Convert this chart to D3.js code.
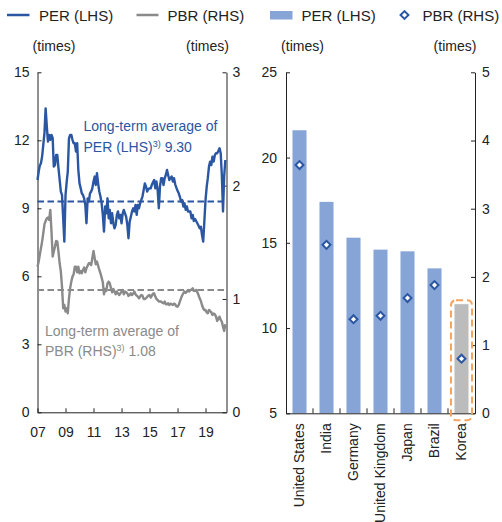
<!DOCTYPE html>
<html>
<head>
<meta charset="utf-8">
<script src="https://cdn.jsdelivr.net/npm/d3@7"></script>
<style>
  html, body { margin: 0; padding: 0; background: #fff; }
  svg { display: block; font-family: "Liberation Sans", Arial, Helvetica, sans-serif; }
</style>
</head>
<body>
<svg id="chart" width="502" height="522"></svg>
<script>
// ---- Data ----------------------------------------------------------------
// Monthly valuation of the domestic stock market, Jan 2007 to Jun 2020
const startMonth = "2007-01";
const perSeries = [
  10.25, 10.62, 10.88, 10.99, 11.28, 11.80, 12.31, 13.41, 12.60, 11.94,
  12.24, 12.02, 12.24, 12.09, 10.84, 10.91, 11.35, 11.35, 10.77, 10.25,
  9.74, 9.59, 8.56, 7.53, 9.59, 10.18, 10.62, 12.09, 12.24, 12.24,
  12.02, 11.87, 11.87, 11.50, 11.87, 10.69, 10.10, 9.88, 9.66, 9.59,
  9.44, 9.15, 8.34, 9.44, 9.30, 9.66, 9.74, 9.88, 10.18, 10.40,
  10.03, 10.55, 10.10, 9.74, 9.52, 9.22, 8.71, 7.97, 9.08, 8.78,
  9.44, 8.56, 8.93, 8.34, 8.78, 8.34, 8.12, 8.27, 8.71, 8.86,
  8.56, 8.71, 8.34, 8.78, 8.93, 8.78, 8.63, 8.27, 7.68, 8.41,
  8.63, 8.86, 9.00, 8.86, 9.15, 8.71, 9.15, 9.00, 9.22, 9.37,
  9.52, 9.81, 10.10, 9.96, 9.74, 9.85, 9.88, 9.88, 10.03, 10.15,
  10.25, 9.88, 10.18, 9.81, 9.00, 9.96, 10.33, 10.33, 10.03, 10.33,
  10.47, 10.69, 10.47, 10.25, 10.33, 10.40, 10.18, 10.33, 10.06, 9.91,
  9.77, 9.66, 9.52, 9.30, 9.37, 9.08, 9.22, 8.93, 9.08, 8.86,
  8.86, 8.86, 8.56, 8.71, 8.44, 8.53, 8.44, 8.34, 8.24, 8.12,
  8.19, 7.83, 7.53, 8.41, 9.37, 9.96, 10.33, 10.84, 11.06, 10.91,
  11.28, 11.06, 11.35, 11.43, 11.43, 11.53, 11.65, 11.43, 10.47, 8.86,
  10.40, 11.13
];
const pbrSeries = [
  1.285, 1.330, 1.388, 1.447, 1.506, 1.580, 1.659, 1.689, 1.712, 1.718,
  1.697, 1.786, 1.594, 1.374, 1.418, 1.462, 1.512, 1.506, 1.418, 1.315,
  1.241, 1.109, 0.918, 0.947, 0.888, 0.918, 0.874, 1.006, 1.094, 1.153,
  1.197, 1.218, 1.285, 1.285, 1.235, 1.285, 1.227, 1.247, 1.227, 1.256,
  1.277, 1.235, 1.271, 1.294, 1.315, 1.315, 1.300, 1.359, 1.424, 1.359,
  1.306, 1.330, 1.294, 1.256, 1.227, 1.188, 1.147, 1.041, 1.088, 1.071,
  1.138, 1.153, 1.138, 1.094, 1.059, 1.088, 1.065, 1.041, 1.065, 1.050,
  1.035, 1.050, 1.065, 1.080, 1.041, 1.065, 1.059, 1.050, 1.027, 1.035,
  1.050, 1.035, 1.047, 1.065, 1.041, 1.030, 1.021, 1.006, 1.021, 1.035,
  1.030, 1.000, 1.000, 1.006, 1.018, 1.030, 1.035, 1.012, 1.027, 1.047,
  1.050, 1.021, 1.000, 0.991, 0.977, 0.977, 0.977, 0.968, 0.962, 0.977,
  0.953, 0.953, 0.962, 0.947, 0.959, 0.953, 0.947, 0.959, 0.953, 0.935,
  0.932, 0.947, 0.977, 1.006, 1.030, 1.050, 1.065, 1.053, 1.065, 1.080,
  1.065, 1.077, 1.083, 1.094, 1.071, 1.071, 1.080, 1.059, 1.035, 1.006,
  0.982, 0.947, 0.918, 0.903, 0.903, 0.882, 0.874, 0.903, 0.894, 0.882,
  0.859, 0.871, 0.865, 0.844, 0.806, 0.824, 0.844, 0.815, 0.800, 0.756,
  0.718, 0.777
];
const perAverage = 9.30;
const pbrAverage = 1.08;
const yearTicks = [2007, 2009, 2011, 2013, 2015, 2017, 2019];
const perTicks = [0, 3, 6, 9, 12, 15];
const pbrTicks = [0, 1, 2, 3];

// Cross-country comparison
const countries = ["United States", "India", "Germany", "United Kingdom", "Japan", "Brazil", "Korea"];
const countryPer = [21.6, 17.4, 15.3, 14.6, 14.5, 13.5, 11.4];
const countryPbr = [3.64, 2.47, 1.38, 1.43, 1.69, 1.88, 0.80];
const countryPerTicks = [5, 10, 15, 20, 25];
const countryPbrTicks = [0, 1, 2, 3, 4, 5];
const highlightCountry = "Korea";

// ---- Styles --------------------------------------------------------------
const BLUE = "#2a56a2";
const GREY = "#8a8a8a";
const BAR_BLUE = "#87a4d6";
const BAR_GREY = "#bcbcbc";
const ORANGE = "#f3a55f";
const AXIS = "#222";
const FONT = 14;
const intFormat = d3.format("d");

const svg = d3.select("#chart");

function styleAxis(g) {
  g.selectAll("path.domain").attr("stroke", AXIS).attr("stroke-width", 1);
  g.selectAll(".tick line").attr("stroke", AXIS).attr("stroke-width", 1);
  g.selectAll(".tick text").attr("fill", "#222").attr("font-size", FONT)
    .attr("font-family", '"Liberation Sans", Arial, sans-serif');
}

// ---- Legend --------------------------------------------------------------
const legend = svg.append("g");
legend.append("line").attr("x1", 7).attr("x2", 29.5).attr("y1", 15).attr("y2", 15)
  .attr("stroke", BLUE).attr("stroke-width", 2.5);
legend.append("text").attr("x", 39).attr("y", 20.5).attr("font-size", 15).attr("fill", "#222").text("PER (LHS)");
legend.append("line").attr("x1", 136.5).attr("x2", 158.5).attr("y1", 15).attr("y2", 15)
  .attr("stroke", GREY).attr("stroke-width", 2.5);
legend.append("text").attr("x", 167.5).attr("y", 20.5).attr("font-size", 15).attr("fill", "#222").text("PBR (RHS)");
legend.append("rect").attr("x", 270).attr("y", 11).attr("width", 22.5).attr("height", 8.5).attr("fill", BAR_BLUE);
legend.append("text").attr("x", 301.5).attr("y", 20.5).attr("font-size", 15).attr("fill", "#222").text("PER (LHS)");
legend.append("rect").attr("x", -2.8).attr("y", -2.8).attr("width", 5.6).attr("height", 5.6)
  .attr("transform", "translate(404.5,15) rotate(45)")
  .attr("fill", "#fff").attr("stroke", BLUE).attr("stroke-width", 2);
legend.append("text").attr("x", 422.5).attr("y", 20.5).attr("font-size", 15).attr("fill", "#222").text("PBR (RHS)");

// Units
[54, 207.5, 302.5, 455].forEach(cx => {
  svg.append("text").attr("x", cx).attr("y", 50.5).attr("text-anchor", "middle")
    .attr("font-size", FONT).attr("fill", "#222").text("(times)");
});

// ---- Left panel: time series ------------------------------------------------
const L = { left: 37.5, right: 226.5, top: 72.3, bottom: 412.3 };
const parseMonth = d3.timeParse("%Y-%m");
const firstMonth = parseMonth(startMonth);
const series = perSeries.map((v, i) => ({
  date: d3.timeMonth.offset(firstMonth, i), per: v, pbr: pbrSeries[i]
}));

const xTime = d3.scaleTime()
  .domain([new Date(2007, 0, 1), new Date(2020, 6, 1)])
  .range([L.left, L.right]);
const yPer = d3.scaleLinear().domain([0, 15]).range([L.bottom, L.top]);
const yPbr = d3.scaleLinear().domain([0, 3]).range([L.bottom, L.top]);

const left = svg.append("g");

left.append("g").attr("transform", `translate(${L.left},0)`)
  .call(d3.axisLeft(yPer).tickValues(perTicks).tickFormat(intFormat)
    .tickSizeInner(-4).tickSizeOuter(0).tickPadding(8))
  .call(styleAxis);
left.append("g").attr("transform", `translate(${L.right},0)`)
  .call(d3.axisRight(yPbr).tickValues(pbrTicks).tickFormat(intFormat)
    .tickSizeInner(-4).tickSizeOuter(0).tickPadding(6))
  .call(styleAxis);
left.append("g").attr("transform", `translate(0,${L.bottom})`)
  .call(d3.axisBottom(xTime)
    .tickValues(yearTicks.map(y => new Date(y, 0, 1)))
    .tickFormat(d3.timeFormat("%y"))
    .tickSizeInner(-4).tickSizeOuter(0).tickPadding(14.5))
  .call(styleAxis);

// Long-term averages
left.append("line")
  .attr("x1", L.left).attr("x2", L.right)
  .attr("y1", yPbr(pbrAverage)).attr("y2", yPbr(pbrAverage))
  .attr("stroke", GREY).attr("stroke-width", 2).attr("stroke-dasharray", "6.5,3.5");
left.append("line")
  .attr("x1", L.left).attr("x2", L.right)
  .attr("y1", yPer(perAverage)).attr("y2", yPer(perAverage))
  .attr("stroke", BLUE).attr("stroke-width", 2).attr("stroke-dasharray", "6.5,3.5");

left.append("path").datum(series)
  .attr("fill", "none").attr("stroke", GREY).attr("stroke-width", 2.4)
  .attr("stroke-linejoin", "round")
  .attr("d", d3.line().x(d => xTime(d.date)).y(d => yPbr(d.pbr)));
left.append("path").datum(series)
  .attr("fill", "none").attr("stroke", BLUE).attr("stroke-width", 2.4)
  .attr("stroke-linejoin", "round")
  .attr("d", d3.line().x(d => xTime(d.date)).y(d => yPer(d.per)));

// Annotations
function averageNote(x, y1, y2, color, label, value) {
  const t = left.append("g").attr("fill", color).attr("font-size", FONT);
  t.append("text").attr("x", x).attr("y", y1).text("Long-term average of");
  const t2 = t.append("text").attr("x", x).attr("y", y2);
  t2.append("tspan").text(label);
  t2.append("tspan").attr("font-size", 9).attr("dy", -5).text("3)");
  t2.append("tspan").attr("dy", 5).text(" " + value.toFixed(2));
}
averageNote(83.5, 131, 152.3, BLUE, "PER (LHS)", perAverage);
averageNote(45, 336, 356, GREY, "PBR (RHS)", pbrAverage);

// ---- Right panel: cross-country bars ---------------------------------------
const R = { left: 286, right: 475, top: 72.3, bottom: 413.3 };
const countryData = countries.map((c, i) => ({ name: c, per: countryPer[i], pbr: countryPbr[i] }));

const xBand = d3.scaleBand().domain(countries).range([R.left, R.right])
  .paddingInner(0.48).paddingOuter(0.24);
const yPerR = d3.scaleLinear().domain([5, 25]).range([R.bottom, R.top]);
const yPbrR = d3.scaleLinear().domain([0, 5]).range([R.bottom, R.top]);

const right = svg.append("g");

right.selectAll("rect.bar").data(countryData).join("rect")
  .attr("class", "bar")
  .attr("x", d => xBand(d.name))
  .attr("width", xBand.bandwidth())
  .attr("y", d => yPerR(d.per))
  .attr("height", d => yPerR(5) - yPerR(d.per))
  .attr("fill", d => d.name === highlightCountry ? BAR_GREY : BAR_BLUE);

right.append("g").attr("transform", `translate(${R.left},0)`)
  .call(d3.axisLeft(yPerR).tickValues(countryPerTicks).tickFormat(intFormat)
    .tickSizeInner(-4).tickSizeOuter(0).tickPadding(9))
  .call(styleAxis);
right.append("g").attr("transform", `translate(${R.right},0)`)
  .call(d3.axisRight(yPbrR).tickValues(countryPbrTicks).tickFormat(intFormat)
    .tickSizeInner(-4).tickSizeOuter(0).tickPadding(7))
  .call(styleAxis);

const xAxisR = right.append("g").attr("transform", `translate(0,${R.bottom})`)
  .call(d3.axisBottom(xBand).tickSize(0).tickSizeOuter(0))
  .call(styleAxis);
xAxisR.selectAll(".tick text")
  .attr("transform", "rotate(-90)")
  .attr("text-anchor", "end")
  .attr("x", -10).attr("y", 0).attr("dy", "0.35em");
// separators between categories
const gap = xBand.step() * xBand.paddingInner() / 2;
xAxisR.selectAll("line.sep").data(countries.slice(1)).join("line")
  .attr("class", "sep")
  .attr("x1", d => xBand(d) - gap).attr("x2", d => xBand(d) - gap)
  .attr("y1", 0).attr("y2", -5)
  .attr("stroke", AXIS);

// PBR markers
right.selectAll("rect.pbr").data(countryData).join("rect")
  .attr("class", "pbr")
  .attr("x", -2.8).attr("y", -2.8).attr("width", 5.6).attr("height", 5.6)
  .attr("transform", d => `translate(${xBand(d.name) + xBand.bandwidth() / 2},${yPbrR(d.pbr)}) rotate(45)`)
  .attr("fill", "#fff").attr("stroke", BLUE).attr("stroke-width", 2);

// Highlight frame
const hl = countryData.find(d => d.name === highlightCountry);
right.append("rect")
  .attr("x", xBand(hl.name) - 3.5)
  .attr("y", yPerR(hl.per) - 4)
  .attr("width", xBand.bandwidth() + 7)
  .attr("height", R.bottom - yPerR(hl.per) + 11)
  .attr("rx", 5).attr("ry", 5)
  .attr("fill", "none").attr("stroke", ORANGE).attr("stroke-width", 2)
  .attr("stroke-dasharray", "7,4");
</script>
</body>
</html>
